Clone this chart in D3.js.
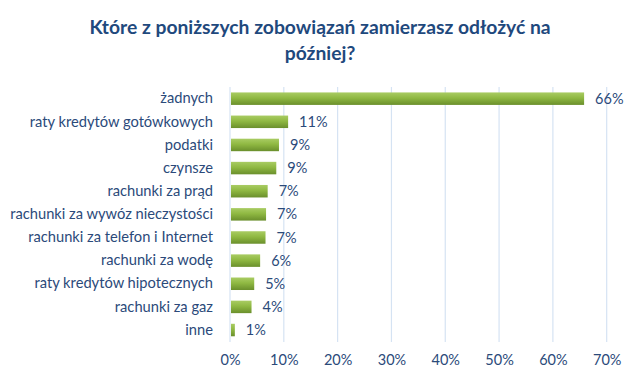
<!DOCTYPE html>
<html><head><meta charset="utf-8">
<script src="https://cdn.jsdelivr.net/npm/d3@7"></script>
<style>body{margin:0;background:#fff}svg{display:block}</style>
</head><body>
<script>
const categories = ["żadnych","raty kredytów gotówkowych","podatki","czynsze","rachunki za prąd","rachunki za wywóz nieczystości","rachunki za telefon i Internet","rachunki za wodę","raty kredytów hipotecznych","rachunki za gaz","inne"];
const values = [65.8,10.8,9.1,8.6,7.0,6.7,6.6,5.6,4.5,4.0,0.9];
const valueLabels = ["66%","11%","9%","9%","7%","7%","7%","6%","5%","4%","1%"];
const tickValues = [0,10,20,30,40,50,60,70];
const titleLines = ["Które z poniższych zobowiązań zamierzasz odłożyć na","później?"];

const W=640,H=383;
const font="Lato, 'Open Sans', sans-serif";
const txt="#2b4a7a";
const svg=d3.select("body").append("svg").attr("width",W).attr("height",H);
const defs=svg.append("defs");
const g=defs.append("linearGradient").attr("id","bg").attr("x1",0).attr("y1",0).attr("x2",0).attr("y2",1);
g.append("stop").attr("offset","0%").attr("stop-color","#a9cc63");
g.append("stop").attr("offset","45%").attr("stop-color","#8fb842");
g.append("stop").attr("offset","100%").attr("stop-color","#6a8f2c");

const x=d3.scaleLinear().domain([0,70]).range([230,606.7]);
const y=d3.scaleBand().domain(categories).range([87.1,341.6]).paddingInner(0.46).paddingOuter(0.23);

svg.append("g").selectAll("text").data(titleLines).join("text")
  .attr("x",320).attr("y",(d,i)=>34+i*26).attr("text-anchor","middle")
  .attr("font-family",font).attr("font-weight","bold").attr("font-size",19.3).attr("fill","#1f497d").text(d=>d);

// gridlines
svg.append("g").selectAll("line").data(tickValues).join("line")
  .attr("x1",d=>x(d)).attr("x2",d=>x(d)).attr("y1",87).attr("y2",342)
  .attr("stroke","#d5e3f3").attr("stroke-width",1.2);

// axis tick labels
const xAxis=d3.axisBottom(x).tickValues(tickValues).tickFormat(d=>d+"%").tickSize(0).tickPadding(0);
const ax=svg.append("g").attr("transform","translate(0,352)").call(xAxis);
ax.select(".domain").remove();
ax.selectAll("text").attr("font-family",font).attr("font-size",14.5).attr("fill",txt).attr("dy","0.9em");

// category labels
const yAxis=d3.axisLeft(y).tickSize(0).tickPadding(0);
const ay=svg.append("g").attr("transform","translate(213,0)").call(yAxis);
ay.select(".domain").remove();
ay.selectAll("text").attr("font-family",font).attr("font-size",14.7).attr("fill",txt);

// bars
svg.append("g").selectAll("rect").data(categories).join("rect")
  .attr("x",x(0)+1).attr("y",d=>y(d)).attr("height",y.bandwidth())
  .attr("width",(d,i)=>x(values[i])-x(0)-1).attr("fill","url(#bg)");

svg.append("g").selectAll("text").data(categories).join("text")
  .attr("x",(d,i)=>x(values[i])+11).attr("y",d=>y(d)+y.bandwidth()/2).attr("dy","0.35em")
  .attr("font-family",font).attr("font-size",14.5).attr("fill",txt).text((d,i)=>valueLabels[i]);
</script>
</body></html>
